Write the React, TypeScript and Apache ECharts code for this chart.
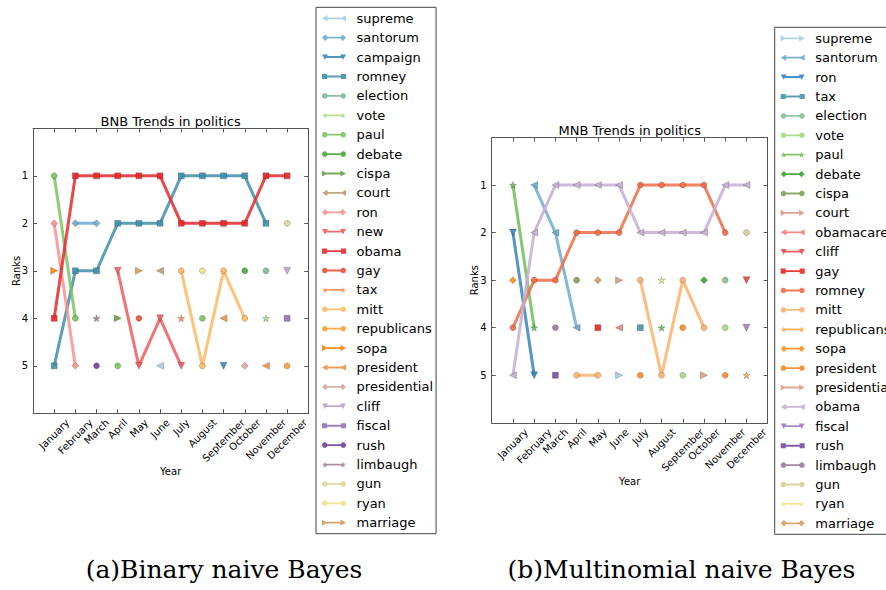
import React, { useEffect, useRef } from "react";
import * as echarts from "echarts";

const MONTHS = ["January", "February", "March", "April", "May", "June", "July", "August", "September", "October", "November", "December"];
const RANK_TICKS = [1, 2, 3, 4, 5];
const _ = null;

// ---------- (a) Binary naive Bayes ----------
const BNB_TITLE = "BNB Trends in politics";
const BNB_CAPTION = "(a)Binary naive Bayes";
const BNB_TERMS = ["supreme", "santorum", "campaign", "romney", "election", "vote", "paul", "debate", "cispa", "court", "ron", "new", "obama", "gay", "tax", "mitt", "republicans", "sopa", "president", "presidential", "cliff", "fiscal", "rush", "limbaugh", "gun", "ryan", "marriage"];
const BNB_MARKERS = ["<", "D", "v", "s", "o", "*", "o", "o", ">", "<", "D", "v", "s", "o", "*", "o", "o", ">", "<", "D", "v", "s", "o", "*", "o", "o", ">"];
const BNB_RANKS: (number | null)[][] = [
  // Jan Feb Mar Apr May Jun Jul Aug Sep Oct Nov Dec
  [_, _, _, _, _, 5, _, _, _, _, _, _], // supreme
  [_, 2, 2, _, _, _, _, _, _, _, _, _], // santorum
  [_, _, _, _, _, _, _, _, 5, _, _, _], // campaign
  [5, 3, 3, 2, 2, 2, 1, 1, 1, 1, 2, _], // romney
  [_, _, _, _, _, _, _, _, _, _, 3, _], // election
  [_, _, _, _, _, _, _, _, _, _, 4, _], // vote
  [1, 4, _, 5, _, _, _, 4, _, _, _, _], // paul
  [_, _, _, _, _, _, _, _, _, 3, _, _], // debate
  [_, _, _, 4, _, _, _, _, _, _, _, _], // cispa
  [_, _, _, _, _, 3, _, _, _, _, _, _], // court
  [2, 5, _, _, _, _, _, _, _, _, _, _], // ron
  [_, _, _, 3, 5, 4, 5, _, _, _, _, _], // new
  [4, 1, 1, 1, 1, 1, 2, 2, 2, 2, 1, 1], // obama
  [_, _, _, _, 4, _, _, _, _, _, _, _], // gay
  [_, _, _, _, _, _, 4, _, _, _, _, _], // tax
  [_, _, _, _, _, _, 3, 5, 3, 4, _, _], // mitt
  [_, _, _, _, _, _, _, _, _, _, _, 5], // republicans
  [3, _, _, _, _, _, _, _, _, _, _, _], // sopa
  [_, _, _, _, _, _, _, _, 4, _, 5, _], // president
  [_, _, _, _, _, _, _, _, _, 5, _, _], // presidential
  [_, _, _, _, _, _, _, _, _, _, _, 3], // cliff
  [_, _, _, _, _, _, _, _, _, _, _, 4], // fiscal
  [_, _, 5, _, _, _, _, _, _, _, _, _], // rush
  [_, _, 4, _, _, _, _, _, _, _, _, _], // limbaugh
  [_, _, _, _, _, _, _, _, _, _, _, 2], // gun
  [_, _, _, _, _, _, _, 3, _, _, _, _], // ryan
  [_, _, _, _, 3, _, _, _, _, _, _, _], // marriage
];

// ---------- (b) Multinomial naive Bayes ----------
const MNB_TITLE = "MNB Trends in politics";
const MNB_CAPTION = "(b)Multinomial naive Bayes";
const MNB_TERMS = ["supreme", "santorum", "ron", "tax", "election", "vote", "paul", "debate", "cispa", "court", "obamacare", "cliff", "gay", "romney", "mitt", "republicans", "sopa", "president", "presidential", "obama", "fiscal", "rush", "limbaugh", "gun", "ryan", "marriage"];
const MNB_MARKERS = [">", "<", "v", "s", "o", "o", "*", "D", "o", ">", "<", "v", "s", "o", "o", "*", "D", "o", ">", "<", "v", "s", "o", "o", "*", "D"];
const MNB_RANKS: (number | null)[][] = [
  // Jan Feb Mar Apr May Jun Jul Aug Sep Oct Nov Dec
  [_, _, _, _, _, 5, _, _, _, _, _, _], // supreme
  [_, 1, 2, 4, _, _, _, _, _, _, _, _], // santorum
  [2, 5, _, _, _, _, _, _, _, _, _, _], // ron
  [_, _, _, _, _, _, 4, _, _, _, _, _], // tax
  [_, _, _, _, _, _, _, _, _, _, 3, _], // election
  [_, _, _, _, _, _, _, _, 5, _, 4, _], // vote
  [1, 4, _, _, _, _, _, 4, _, _, _, _], // paul
  [_, _, _, _, _, _, _, _, _, 3, _, _], // debate
  [_, _, _, 3, _, _, _, _, _, _, _, _], // cispa
  [_, _, _, _, _, 3, _, _, _, _, _, _], // court
  [_, _, _, _, _, 4, _, _, _, _, _, _], // obamacare
  [_, _, _, _, _, _, _, _, _, _, _, 3], // cliff
  [_, _, _, _, 4, _, _, _, _, _, _, _], // gay
  [4, 3, 3, 2, 2, 2, 1, 1, 1, 1, 2, _], // romney
  [_, _, _, 5, 5, _, 3, 5, 3, 4, _, _], // mitt
  [_, _, _, _, _, _, _, _, _, _, _, 5], // republicans
  [3, _, _, _, _, _, _, _, _, _, _, _], // sopa
  [_, _, _, _, _, _, 5, _, 4, _, 5, _], // president
  [_, _, _, _, _, _, _, _, _, 5, _, _], // presidential
  [5, 2, 1, 1, 1, 1, 2, 2, 2, 2, 1, 1], // obama
  [_, _, _, _, _, _, _, _, _, _, _, 4], // fiscal
  [_, _, 5, _, _, _, _, _, _, _, _, _], // rush
  [_, _, 4, _, _, _, _, _, _, _, _, _], // limbaugh
  [_, _, _, _, _, _, _, _, _, _, _, 2], // gun
  [_, _, _, _, _, _, _, 3, _, _, _, _], // ryan
  [_, _, _, _, 3, _, _, _, _, _, _, _], // marriage
];

// ---------- styling ----------
const PAIRED = ["#a6cee3", "#1f78b4", "#b2df8a", "#33a02c", "#fb9a99", "#e31a1c", "#fdbf6f", "#ff7f00", "#cab2d6", "#6a3d9a", "#ffff99", "#b15928"];
const SANS = "DejaVu Sans";
const SERIF = "DejaVu Serif";
const AXIS_COLOR = "#555";
const STAR = "path://M50,0 L61.8,35.1 L97.6,35.1 L68.5,56.7 L79.4,91 L50,70 L20.6,91 L31.5,56.7 L2.4,35.1 L38.2,35.1 Z";

function hexRgb(h: string) {
  return [parseInt(h.slice(1, 3), 16), parseInt(h.slice(3, 5), 16), parseInt(h.slice(5, 7), 16)];
}
function pairedColor(t: number) {
  const p = t * (PAIRED.length - 1);
  const i = Math.min(PAIRED.length - 2, Math.floor(p));
  const f = p - i;
  const a = hexRgb(PAIRED[i]);
  const b = hexRgb(PAIRED[i + 1]);
  const c = a.map((v, k) => Math.round(v + (b[k] - v) * f));
  return `rgb(${c[0]},${c[1]},${c[2]})`;
}
function markerStyle(code: string) {
  switch (code) {
    case "s": return { symbol: "rect", size: 6, rotate: 0 };
    case "D": return { symbol: "diamond", size: 7, rotate: 0 };
    case "v": return { symbol: "triangle", size: 7, rotate: 180 };
    case "<": return { symbol: "triangle", size: 7, rotate: 90 };
    case ">": return { symbol: "triangle", size: 7, rotate: -90 };
    case "*": return { symbol: STAR, size: 7, rotate: 0 };
    default: return { symbol: "circle", size: 6, rotate: 0 };
  }
}

// legend icon: a short line with the marker drawn at both ends (24 x 8 box);
// every sub-path is wound the same way so that overlaps stay filled
const f1 = (v: number) => v.toFixed(2);
function poly(cx: number, cy: number, count: number, radii: number[], start: number) {
  const pts: string[] = [];
  for (let k = 0; k < count; k++) {
    const r = radii[k % radii.length];
    const a = start + (k * 2 * Math.PI) / count;
    pts.push(`${f1(cx + r * Math.cos(a))},${f1(cy + r * Math.sin(a))}`);
  }
  return "M" + pts.join(" L") + " Z";
}
function markerPath(code: string, cx: number) {
  const cy = 4;
  switch (code) {
    case "s": return `M${f1(cx - 2.4)},${f1(cy - 2.4)} L${f1(cx + 2.4)},${f1(cy - 2.4)} L${f1(cx + 2.4)},${f1(cy + 2.4)} L${f1(cx - 2.4)},${f1(cy + 2.4)} Z`;
    case "D": return `M${f1(cx)},${f1(cy - 3.3)} L${f1(cx + 3.3)},${f1(cy)} L${f1(cx)},${f1(cy + 3.3)} L${f1(cx - 3.3)},${f1(cy)} Z`;
    case "v": return `M${f1(cx - 3)},${f1(cy - 2.6)} L${f1(cx + 3)},${f1(cy - 2.6)} L${f1(cx)},${f1(cy + 2.8)} Z`;
    case "<": return `M${f1(cx - 2.8)},${f1(cy)} L${f1(cx + 2.6)},${f1(cy - 3)} L${f1(cx + 2.6)},${f1(cy + 3)} Z`;
    case ">": return `M${f1(cx + 2.8)},${f1(cy)} L${f1(cx - 2.6)},${f1(cy + 3)} L${f1(cx - 2.6)},${f1(cy - 3)} Z`;
    case "*": return poly(cx, cy + 0.3, 10, [3.3, 1.35], -Math.PI / 2);
    default: return poly(cx, cy, 16, [2.7], 0);
  }
}
function legendIcon(code: string) {
  const line = "M3,3.1 L21,3.1 L21,4.9 L3,4.9 Z";
  return `path://${line} ${markerPath(code, 3)} ${markerPath(code, 21)}`;
}

type Panel = {
  title: string;
  caption: string;
  terms: string[];
  markers: string[];
  ranks: (number | null)[][];
  grid: { left: number; top: number; width: number; height: number };
  legend: { left: number; top: number };
  captionX: number;
};

const PANEL_A: Panel = {
  title: BNB_TITLE, caption: BNB_CAPTION, terms: BNB_TERMS, markers: BNB_MARKERS, ranks: BNB_RANKS,
  grid: { left: 33, top: 128.3, width: 275.3, height: 285 },
  legend: { left: 316, top: 7.3 },
  captionX: 224,
};
const PANEL_B: Panel = {
  title: MNB_TITLE, caption: MNB_CAPTION, terms: MNB_TERMS, markers: MNB_MARKERS, ranks: MNB_RANKS,
  grid: { left: 48.7, top: 137.5, width: 276, height: 285.3 },
  legend: { left: 331.7, top: 27.3 },
  captionX: 238.5,
};

function measure(text: string, font: string) {
  const ctx = document.createElement("canvas").getContext("2d");
  if (!ctx) return text.length * 6;
  ctx.font = font;
  return ctx.measureText(text).width;
}

function buildOption(p: Panel) {
  const n = p.terms.length;
  const xData = ["", ...MONTHS, ""];

  const series = p.terms.map((term, i) => {
    const color = pairedColor(i / n);
    const mk = markerStyle(p.markers[i]);
    return {
      type: "line",
      name: term,
      xAxisIndex: 0,
      yAxisIndex: 0,
      data: [null, ...p.ranks[i], null],
      connectNulls: false,
      showAllSymbol: true,
      symbol: mk.symbol,
      symbolSize: mk.size,
      symbolRotate: mk.rotate,
      lineStyle: { color, width: 3, opacity: 0.85 },
      itemStyle: { color, opacity: 0.9, borderColor: "rgba(0,0,0,0.45)", borderWidth: 0.5 },
      emphasis: { disabled: true },
      silent: true,
    };
  });

  const g = p.grid;
  const tick = { show: true, inside: true, length: 4, lineStyle: { color: AXIS_COLOR, width: 1 } };
  const line = { show: true, onZero: false, lineStyle: { color: AXIS_COLOR, width: 1 } };

  return {
    animation: false,
    backgroundColor: "#fff",
    grid: { left: g.left, top: g.top, width: g.width, height: g.height, containLabel: false, outerBoundsMode: "none" },
    xAxis: [
      {
        type: "category", data: xData, boundaryGap: false, position: "bottom",
        axisLine: line, axisTick: { ...tick, interval: 0 },
        axisLabel: { show: false },
        splitLine: { show: false },
      },
      {
        type: "category", data: xData, boundaryGap: false, position: "top",
        axisLine: line, axisTick: { ...tick, interval: 0 }, axisLabel: { show: false }, splitLine: { show: false },
      },
    ],
    yAxis: [
      {
        type: "value", inverse: true, min: 0, max: 6, interval: 1, position: "left",
        axisLine: line, axisTick: tick,
        axisLabel: { margin: 5, fontSize: 10, fontFamily: SANS, color: "#000", formatter: (v: number) => (RANK_TICKS.includes(v) ? String(v) : "") },
        splitLine: { show: false },
      },
      {
        type: "value", inverse: true, min: 0, max: 6, interval: 1, position: "right",
        axisLine: line, axisTick: tick, axisLabel: { show: false }, splitLine: { show: false },
      },
    ],
    legend: {
      orient: "vertical", left: p.legend.left, top: p.legend.top,
      data: p.terms.map((t, i) => ({ name: t, icon: legendIcon(p.markers[i]) })),
      selectedMode: false,
      itemWidth: 24, itemHeight: 8, itemGap: 5.4,
      padding: [4, 3, 4, 6],
      backgroundColor: "#fff", borderColor: "#444", borderWidth: 1, borderRadius: 0,
      symbolRotate: 0,
      itemStyle: { borderWidth: 0, opacity: 0.9 },
      textStyle: { fontSize: 13, fontFamily: SANS, color: "#000", lineHeight: 14, padding: [0, 0, 0, 5.6] },
    },
    series,
  };
}

// texts: title, axis names, caption and the rotated month labels (placed on the category axis' own ticks)
function buildGraphics(p: Panel, chart: echarts.ECharts) {
  const g = p.grid;
  const axisY = g.top + g.height;
  const font = `10px "${SANS}"`;
  const els: any[] = [
    { type: "text", id: "title", x: g.left + g.width / 2, y: g.top - 6.7, silent: true, style: { text: p.title, fontSize: 13, fontFamily: SANS, fill: "#000", align: "center", verticalAlign: "middle" } },
    { type: "text", id: "xname", x: g.left + g.width / 2, y: axisY + 58.5, silent: true, style: { text: "Year", fontSize: 10, fontFamily: SANS, fill: "#000", align: "center", verticalAlign: "middle" } },
    { type: "text", id: "yname", x: g.left - 17, y: g.top + g.height / 2, rotation: Math.PI / 2, silent: true, style: { text: "Ranks", fontSize: 10, fontFamily: SANS, fill: "#000", align: "center", verticalAlign: "middle" } },
    { type: "text", id: "caption", x: p.captionX, y: 569.5, silent: true, style: { text: p.caption, fontSize: 25, fontFamily: SERIF, fill: "#000", align: "center", verticalAlign: "middle" } },
  ];
  MONTHS.forEach((m, i) => {
    const px = chart.convertToPixel({ xAxisIndex: 0 }, m) as unknown as number;
    const w = measure(m, font);
    els.push({
      type: "text", id: "month" + i, x: px, y: axisY + 4 + 0.354 * (w + 10), rotation: Math.PI / 4, silent: true,
      style: { text: m, fontSize: 10, fontFamily: SANS, fill: "#000", align: "center", verticalAlign: "middle" },
    });
  });
  return els;
}

function ChartPanel({ panel, left }: { panel: Panel; left: number }) {
  const ref = useRef<HTMLDivElement>(null);
  useEffect(() => {
    if (!ref.current) return;
    const chart = echarts.init(ref.current, undefined, { renderer: "svg" });
    chart.setOption(buildOption(panel) as any);
    chart.setOption({ graphic: buildGraphics(panel, chart) } as any);
    return () => chart.dispose();
  }, [panel]);
  return <div ref={ref} style={{ position: "absolute", left, top: 0, width: 443, height: 590 }} />;
}

export default function App() {
  return (
    <div style={{ position: "absolute", left: 0, top: 0, width: 886, height: 590, background: "#fff", overflow: "hidden" }}>
      <ChartPanel panel={PANEL_A} left={0} />
      <ChartPanel panel={PANEL_B} left={443} />
    </div>
  );
}
